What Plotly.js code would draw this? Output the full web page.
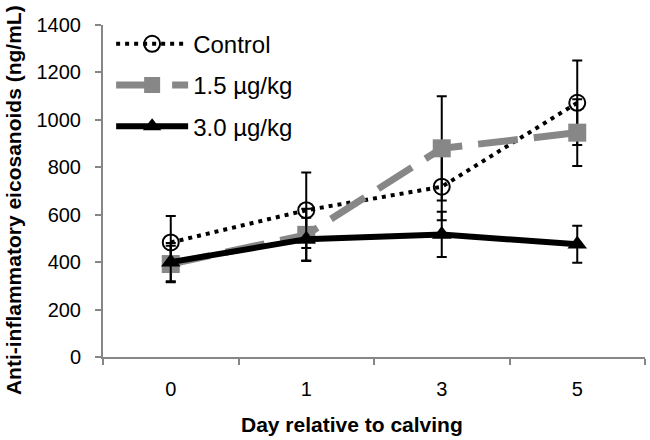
<!DOCTYPE html>
<html>
<head>
<meta charset="utf-8">
<script src="https://cdn.plot.ly/plotly-3.0.1.min.js"></script>
<style>html,body{margin:0;padding:0;background:#fff}#chart{width:650px;height:440px}</style>
</head>
<body>
<div id="chart"></div>
<script>
const days = ["0", "1", "3", "5"];
const seriesNames = ["Control", "1.5 µg/kg", "3.0 µg/kg"];
const controlVals = [483, 619, 718, 1072];
const controlErr = [112, 159, 141, 178];
const low15Vals = [392, 515, 880, 946];
const low15Err = [77, 110, 220, 141];
const high30Vals = [400, 497, 517, 475];
const high30Err = [81, 90, 95, 78];
const yTicks = [0, 200, 400, 600, 800, 1000, 1200, 1400];
const xTitle = "Day relative to calving";
const yTitle = "Anti-inflammatory eicosanoids (ng/mL)";

const FONT = "Liberation Sans, Arial, sans-serif";
const errStyle = {type: "data", visible: true, color: "#000", thickness: 2, width: 5};

const traces = [
  {
    x: days, y: controlVals, name: seriesNames[0], type: "scatter", mode: "lines+markers",
    legendgroup: "a",
    line: {color: "#000", width: 4, dash: "4px,5px"},
    marker: {symbol: "circle-open", size: 16, color: "#000", line: {width: 2, color: "#000"}},
    error_y: Object.assign({array: controlErr}, errStyle)
  },
  {
    x: days, y: low15Vals, name: seriesNames[1], type: "scatter", mode: "lines+markers",
    legendgroup: "b",
    line: {color: "#878787", width: 7, dash: "40px,16px"},
    marker: {symbol: "square", size: 18, color: "#878787"},
    error_y: Object.assign({array: low15Err}, errStyle)
  },
  {
    x: days, y: high30Vals, name: seriesNames[2], type: "scatter", mode: "lines+markers",
    legendgroup: "c",
    line: {color: "#000", width: 6},
    marker: {symbol: "triangle-up", size: 17, color: "#000"},
    error_y: Object.assign({array: high30Err}, errStyle)
  }
];

const layout = {
  width: 650, height: 440,
  margin: {l: 103, r: 5, t: 25, b: 83},
  paper_bgcolor: "#fff", plot_bgcolor: "#fff",
  font: {family: FONT, color: "#000"},
  showlegend: true,
  legend: {
    x: 0.015, y: 1.01, xanchor: "left", yanchor: "top",
    font: {family: FONT, size: 24, color: "#000"},
    bgcolor: "rgba(0,0,0,0)",
    traceorder: "grouped", tracegroupgap: 7,
    itemwidth: 72
  },
  xaxis: {
    type: "category", range: [-0.5, 3.5],
    tickson: "boundaries",
    ticks: "outside", ticklen: 6, tickwidth: 2, tickcolor: "#868686",
    showline: true, linecolor: "#868686", linewidth: 2,
    showgrid: false, zeroline: false,
    ticklabelstandoff: 13,
    tickfont: {family: FONT, size: 20, color: "#000"}
  },
  yaxis: {
    range: [0, 1400], tickvals: yTicks, ticktext: yTicks.map(String),
    ticks: "outside", ticklen: 6, tickwidth: 2, tickcolor: "#868686",
    showline: true, linecolor: "#868686", linewidth: 2,
    showgrid: false, zeroline: false,
    ticklabelstandoff: 10,
    tickfont: {family: FONT, size: 20, color: "#000"}
  },
  annotations: [
    {
      text: "<b>" + xTitle + "</b>", xref: "paper", yref: "paper",
      x: 0.459, y: -0.202, xanchor: "center", yanchor: "middle", showarrow: false,
      font: {family: FONT, size: 21, color: "#000"}
    },
    {
      text: "<b>" + yTitle + "</b>", xref: "paper", yref: "paper", textangle: -90,
      x: -0.164, y: 0.473, xanchor: "center", yanchor: "middle", showarrow: false,
      font: {family: FONT, size: 21, color: "#000"}
    }
  ]
};

Plotly.newPlot("chart", traces, layout, {staticPlot: true, displayModeBar: false});
</script>
</body>
</html>
